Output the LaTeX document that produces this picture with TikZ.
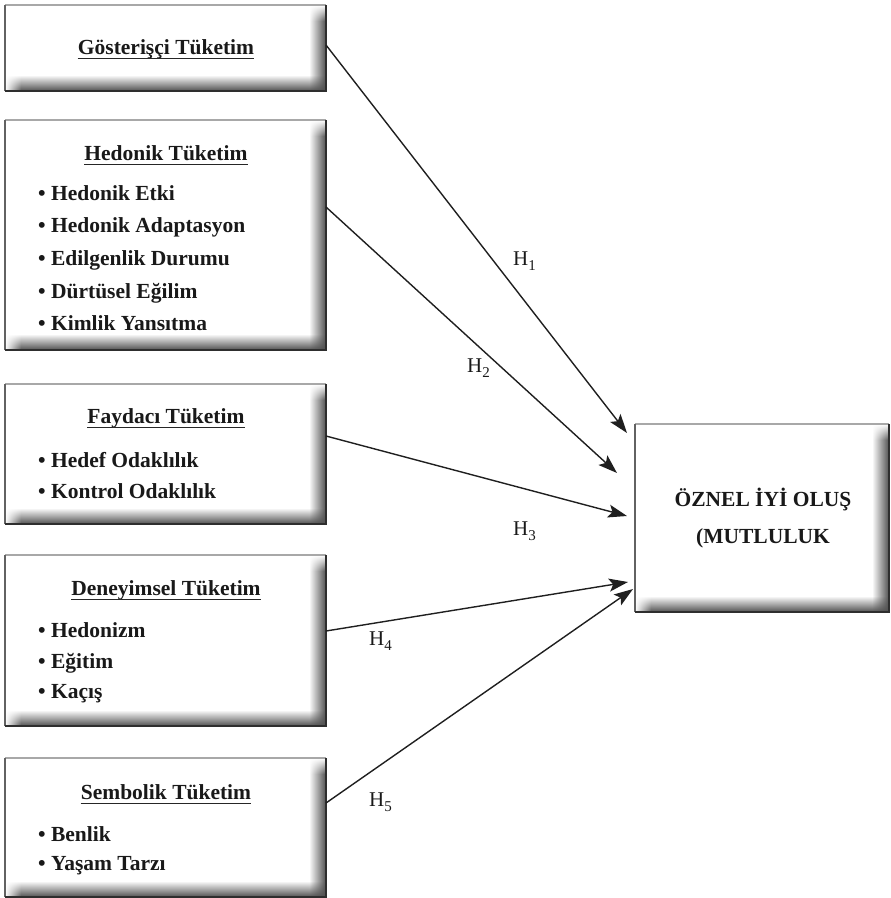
\documentclass[tikz,border=0pt]{standalone}
\usepackage{fontspec}
\setmainfont{Liberation Serif}
\usetikzlibrary{arrows.meta,shadings}
\definecolor{dk}{HTML}{505050}
\definecolor{edgedark}{HTML}{2E2E2E}
\definecolor{edgelight}{HTML}{A8A8A8}
\newcommand\bevelbox[1]{%
  \shade[left color=white,right color=dk] ([xshift=-17pt,yshift=-16pt]#1.north east) rectangle ([yshift=16pt]#1.south east);
  \shade[upper left=white,upper right=white,lower left=white,lower right=dk] ([xshift=-17pt]#1.north east) rectangle ([yshift=-16pt]#1.north east);
  \shade[top color=white,bottom color=dk] ([xshift=16pt,yshift=16pt]#1.south west) rectangle ([xshift=-17pt]#1.south east);
  \shade[upper left=white,upper right=white,lower left=white,lower right=dk] (#1.south west) rectangle ([xshift=16pt,yshift=16pt]#1.south west);
  \shade[upper left=white,upper right=dk,lower left=dk,lower right=dk] ([xshift=-17pt,yshift=16pt]#1.south east) rectangle (#1.south east);
  \draw[line width=1.5pt,edgelight] (#1.north west) -- (#1.north east);
  \draw[line width=1.2pt,edgedark!75] (#1.south west) -- (#1.north west);
  \draw[line width=2.2pt,edgedark] (#1.north east) -- (#1.south east) -- (#1.south west);
}
\tikzset{
  bx/.style={rectangle, fill=white, inner sep=0pt, outer sep=0pt, anchor=north west},
  hd/.style={font=\fontsize{21.5}{26}\selectfont\bfseries, inner sep=0pt, anchor=base, text=black!90},
  itm/.style={font=\fontsize{21.5}{26}\selectfont\bfseries, inner sep=0pt, anchor=base west, text=black!90},
  hl/.style={font=\fontsize{21}{24}\selectfont, inner sep=0pt, anchor=base west, text=black!90},
  uline/.style={line width=1.5pt, black!85},
  conn/.style={-{Stealth[length=19pt,width=13pt,inset=4pt]}, line width=1.4pt, black!88}
}
\newcommand\hsub[1]{H\raisebox{-5pt}{\fontsize{15}{15}\selectfont #1}}
\begin{document}
\begin{tikzpicture}[x=1pt,y=-1pt]
\useasboundingbox (0,0) rectangle (891,898);
% boxes
\node[bx, minimum width=321pt, minimum height=86pt] (b1) at (5,5) {};
\node[bx, minimum width=321pt, minimum height=230pt] (b2) at (5,120) {};
\node[bx, minimum width=321pt, minimum height=140pt] (b3) at (5,384) {};
\node[bx, minimum width=321pt, minimum height=171pt] (b4) at (5,555) {};
\node[bx, minimum width=321pt, minimum height=139pt] (b5) at (5,758) {};
\node[bx, minimum width=254pt, minimum height=188pt] (rb) at (635,424) {};
\bevelbox{b1}\bevelbox{b2}\bevelbox{b3}\bevelbox{b4}\bevelbox{b5}\bevelbox{rb}
% headings
\node[hd] (h1) at (166,54) {Gösterişçi Tüketim};
\node[hd] (h2) at (166,160) {Hedonik Tüketim};
\node[hd] (h3) at (166,423) {Faydacı Tüketim};
\node[hd] (h4) at (166,595) {Deneyimsel Tüketim};
\node[hd] (h5) at (166,799) {Sembolik Tüketim};
\foreach \n in {h1,h2,h3,h4,h5}{
  \draw[uline] ([yshift=-4.5pt]\n.base west) -- ([yshift=-4.5pt]\n.base east);
}
% items
\node[itm] (i21) at (38,200) {• Hedonik Etki};
\node[itm] (i22) at (38,232.5) {• Hedonik Adaptasyon};
\node[itm] (i23) at (38,265) {• Edilgenlik Durumu};
\node[itm] (i24) at (38,298) {• Dürtüsel Eğilim};
\node[itm] (i25) at (38,330) {• Kimlik Yansıtma};
\node[itm] (i31) at (38,467) {• Hedef Odaklılık};
\node[itm] (i32) at (38,498) {• Kontrol Odaklılık};
\node[itm] (i41) at (38,637) {• Hedonizm};
\node[itm] (i42) at (38,668) {• Eğitim};
\node[itm] (i43) at (38,698) {• Kaçış};
\node[itm] (i51) at (38,841) {• Benlik};
\node[itm] (i52) at (38,870) {• Yaşam Tarzı};
% right box text
\node[hd] (r1) at (763,506) {ÖZNEL İYİ OLUŞ};
\node[hd] (r2) at (763,543) {(MUTLULUK};
% arrows
\draw[conn] ([yshift=3pt]b1.east) -- ([xshift=-8pt,yshift=-9pt]rb.north west);
\draw[conn] ([yshift=28pt]b2.east) -- ([xshift=-18pt,yshift=-49pt]rb.north west);
\draw[conn] ([yshift=18pt]b3.east) -- ([xshift=-8pt,yshift=-92pt]rb.north west);
\draw[conn] ([yshift=9.5pt]b4.east) -- ([xshift=-7pt,yshift=-158pt]rb.north west);
\draw[conn] ([yshift=24.5pt]b5.east) -- ([xshift=-2pt,yshift=-165pt]rb.north west);
% labels
\node[hl] (l1) at (513,265) {\hsub{1}};
\node[hl] (l2) at (467,372) {\hsub{2}};
\node[hl] (l3) at (513,535) {\hsub{3}};
\node[hl] (l4) at (369,645) {\hsub{4}};
\node[hl] (l5) at (369,806) {\hsub{5}};
\end{tikzpicture}
\end{document}
